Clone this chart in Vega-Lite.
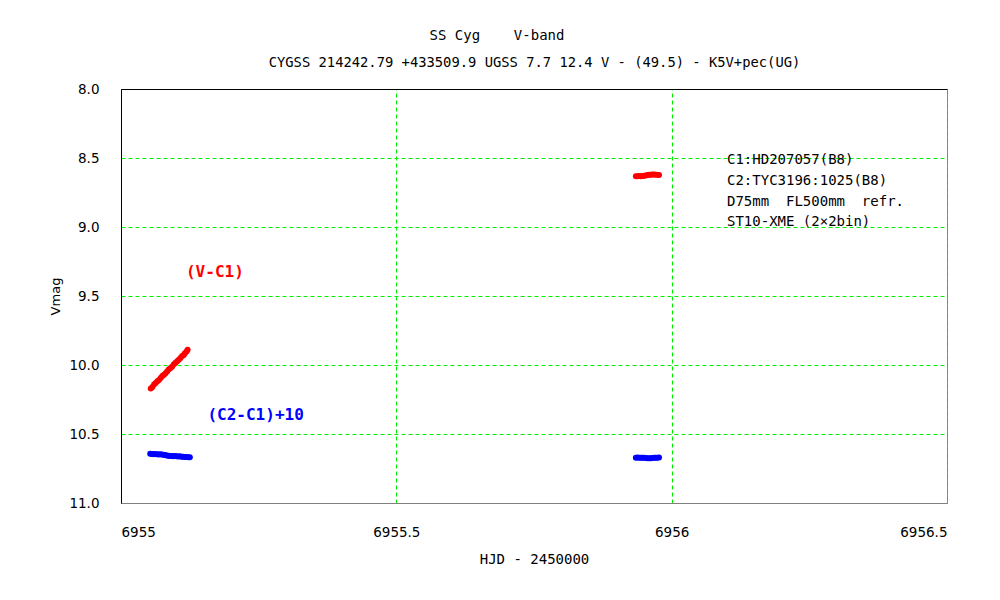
{
  "$schema": "https://vega.github.io/schema/vega-lite/v6.json",
  "width": 826,
  "height": 414,
  "autosize": {"type": "none"},
  "padding": {"left": 121, "top": 89, "right": 53, "bottom": 97},
  "background": "white",
  "title": {
    "text": "SS Cyg\u00a0\u00a0\u00a0\u00a0V-band",
    "font": "DejaVu Sans Mono",
    "fontSize": 14,
    "fontWeight": "normal",
    "color": "#000000",
    "anchor": "middle",
    "dx": -37,
    "offset": 12
  },
  "config": {
    "view": {"stroke": "#808080", "strokeWidth": 1},
    "font": "DejaVu Sans"
  },
  "layer": [
    {
      "data": {
        "values": [
          {"hjd": 6955.054, "mag": 10.170, "series": "V-C1"},
          {"hjd": 6955.057, "mag": 10.160, "series": "V-C1"},
          {"hjd": 6955.060, "mag": 10.142, "series": "V-C1"},
          {"hjd": 6955.063, "mag": 10.130, "series": "V-C1"},
          {"hjd": 6955.066, "mag": 10.118, "series": "V-C1"},
          {"hjd": 6955.069, "mag": 10.108, "series": "V-C1"},
          {"hjd": 6955.072, "mag": 10.095, "series": "V-C1"},
          {"hjd": 6955.075, "mag": 10.079, "series": "V-C1"},
          {"hjd": 6955.078, "mag": 10.070, "series": "V-C1"},
          {"hjd": 6955.081, "mag": 10.060, "series": "V-C1"},
          {"hjd": 6955.084, "mag": 10.046, "series": "V-C1"},
          {"hjd": 6955.087, "mag": 10.030, "series": "V-C1"},
          {"hjd": 6955.090, "mag": 10.021, "series": "V-C1"},
          {"hjd": 6955.093, "mag": 10.010, "series": "V-C1"},
          {"hjd": 6955.096, "mag": 9.994, "series": "V-C1"},
          {"hjd": 6955.099, "mag": 9.984, "series": "V-C1"},
          {"hjd": 6955.102, "mag": 9.972, "series": "V-C1"},
          {"hjd": 6955.105, "mag": 9.962, "series": "V-C1"},
          {"hjd": 6955.108, "mag": 9.949, "series": "V-C1"},
          {"hjd": 6955.111, "mag": 9.935, "series": "V-C1"},
          {"hjd": 6955.114, "mag": 9.928, "series": "V-C1"},
          {"hjd": 6955.116, "mag": 9.915, "series": "V-C1"},
          {"hjd": 6955.119, "mag": 9.903, "series": "V-C1"},
          {"hjd": 6955.121, "mag": 9.890, "series": "V-C1"},
          {"hjd": 6955.935, "mag": 8.633, "series": "V-C1"},
          {"hjd": 6955.938, "mag": 8.632, "series": "V-C1"},
          {"hjd": 6955.941, "mag": 8.631, "series": "V-C1"},
          {"hjd": 6955.944, "mag": 8.632, "series": "V-C1"},
          {"hjd": 6955.947, "mag": 8.630, "series": "V-C1"},
          {"hjd": 6955.950, "mag": 8.629, "series": "V-C1"},
          {"hjd": 6955.953, "mag": 8.627, "series": "V-C1"},
          {"hjd": 6955.956, "mag": 8.624, "series": "V-C1"},
          {"hjd": 6955.959, "mag": 8.622, "series": "V-C1"},
          {"hjd": 6955.962, "mag": 8.621, "series": "V-C1"},
          {"hjd": 6955.965, "mag": 8.619, "series": "V-C1"},
          {"hjd": 6955.968, "mag": 8.620, "series": "V-C1"},
          {"hjd": 6955.971, "mag": 8.621, "series": "V-C1"},
          {"hjd": 6955.974, "mag": 8.622, "series": "V-C1"},
          {"hjd": 6955.977, "mag": 8.624, "series": "V-C1"},
          {"hjd": 6955.053, "mag": 10.644, "series": "C2-C1+10"},
          {"hjd": 6955.056, "mag": 10.645, "series": "C2-C1+10"},
          {"hjd": 6955.059, "mag": 10.646, "series": "C2-C1+10"},
          {"hjd": 6955.062, "mag": 10.645, "series": "C2-C1+10"},
          {"hjd": 6955.065, "mag": 10.647, "series": "C2-C1+10"},
          {"hjd": 6955.068, "mag": 10.648, "series": "C2-C1+10"},
          {"hjd": 6955.071, "mag": 10.647, "series": "C2-C1+10"},
          {"hjd": 6955.074, "mag": 10.649, "series": "C2-C1+10"},
          {"hjd": 6955.077, "mag": 10.650, "series": "C2-C1+10"},
          {"hjd": 6955.080, "mag": 10.652, "series": "C2-C1+10"},
          {"hjd": 6955.083, "mag": 10.655, "series": "C2-C1+10"},
          {"hjd": 6955.086, "mag": 10.657, "series": "C2-C1+10"},
          {"hjd": 6955.089, "mag": 10.659, "series": "C2-C1+10"},
          {"hjd": 6955.092, "mag": 10.660, "series": "C2-C1+10"},
          {"hjd": 6955.095, "mag": 10.661, "series": "C2-C1+10"},
          {"hjd": 6955.098, "mag": 10.660, "series": "C2-C1+10"},
          {"hjd": 6955.101, "mag": 10.662, "series": "C2-C1+10"},
          {"hjd": 6955.104, "mag": 10.663, "series": "C2-C1+10"},
          {"hjd": 6955.107, "mag": 10.662, "series": "C2-C1+10"},
          {"hjd": 6955.110, "mag": 10.664, "series": "C2-C1+10"},
          {"hjd": 6955.113, "mag": 10.665, "series": "C2-C1+10"},
          {"hjd": 6955.116, "mag": 10.667, "series": "C2-C1+10"},
          {"hjd": 6955.119, "mag": 10.666, "series": "C2-C1+10"},
          {"hjd": 6955.122, "mag": 10.668, "series": "C2-C1+10"},
          {"hjd": 6955.125, "mag": 10.669, "series": "C2-C1+10"},
          {"hjd": 6955.935, "mag": 10.672, "series": "C2-C1+10"},
          {"hjd": 6955.938, "mag": 10.671, "series": "C2-C1+10"},
          {"hjd": 6955.941, "mag": 10.672, "series": "C2-C1+10"},
          {"hjd": 6955.944, "mag": 10.673, "series": "C2-C1+10"},
          {"hjd": 6955.947, "mag": 10.672, "series": "C2-C1+10"},
          {"hjd": 6955.950, "mag": 10.673, "series": "C2-C1+10"},
          {"hjd": 6955.953, "mag": 10.674, "series": "C2-C1+10"},
          {"hjd": 6955.956, "mag": 10.675, "series": "C2-C1+10"},
          {"hjd": 6955.959, "mag": 10.676, "series": "C2-C1+10"},
          {"hjd": 6955.962, "mag": 10.675, "series": "C2-C1+10"},
          {"hjd": 6955.965, "mag": 10.674, "series": "C2-C1+10"},
          {"hjd": 6955.968, "mag": 10.673, "series": "C2-C1+10"},
          {"hjd": 6955.971, "mag": 10.672, "series": "C2-C1+10"},
          {"hjd": 6955.974, "mag": 10.672, "series": "C2-C1+10"},
          {"hjd": 6955.977, "mag": 10.671, "series": "C2-C1+10"}
        ]
      },
      "mark": {"type": "circle", "size": 36, "opacity": 1},
      "encoding": {
        "x": {
          "field": "hjd",
          "type": "quantitative",
          "scale": {"domain": [6955, 6956.5], "nice": false, "zero": false},
          "axis": {
            "orient": "bottom",
            "title": "HJD - 2450000",
            "values": [6955, 6955.5, 6956, 6956.5],
            "format": ".1~f",
            "ticks": false,
            "labelPadding": 22,
            "labelFontSize": 13.5,
            "labelColor": "#000000",
            "labelFont": "DejaVu Sans",
            "titleFont": "DejaVu Sans Mono",
            "titleFontSize": 14,
            "titleFontWeight": "normal",
            "titleColor": "#000000",
            "titlePadding": 14,
            "domainColor": "#808080",
            "grid": true,
            "gridColor": "#00ee00",
            "gridDash": [4, 3],
            "gridWidth": 1,
            "gridOpacity": 1
          }
        },
        "y": {
          "field": "mag",
          "type": "quantitative",
          "scale": {"domain": [8, 11], "reverse": true, "nice": false, "zero": false},
          "axis": {
            "title": "Vmag",
            "values": [8, 8.5, 9, 9.5, 10, 10.5, 11],
            "format": ".1f",
            "ticks": false,
            "labelPadding": 22,
            "labelFontSize": 13.5,
            "labelColor": "#000000",
            "labelFont": "DejaVu Sans",
            "titleFont": "DejaVu Sans",
            "titleFontSize": 13,
            "titleFontWeight": "normal",
            "titleColor": "#000000",
            "titlePadding": 6,
            "domainColor": "#000000",
            "grid": true,
            "gridColor": "#00ee00",
            "gridDash": [4, 3],
            "gridWidth": 1,
            "gridOpacity": 1
          }
        },
        "color": {
          "field": "series",
          "type": "nominal",
          "scale": {"domain": ["V-C1", "C2-C1+10"], "range": ["#ff0000", "#0000ff"]},
          "legend": null
        }
      }
    },
    {
      "data": {"values": [{"hjd": 6955.118, "mag": 9.326, "label": "(V-C1)"}]},
      "mark": {"type": "text", "align": "left", "baseline": "middle", "font": "DejaVu Sans Mono", "fontSize": 16, "fontWeight": "bold", "color": "#ff0000"},
      "encoding": {
        "x": {"field": "hjd", "type": "quantitative", "axis": null},
        "y": {"field": "mag", "type": "quantitative"},
        "text": {"field": "label"}
      }
    },
    {
      "data": {"values": [{"hjd": 6955.157, "mag": 10.362, "label": "(C2-C1)+10"}]},
      "mark": {"type": "text", "align": "left", "baseline": "middle", "font": "DejaVu Sans Mono", "fontSize": 16, "fontWeight": "bold", "color": "#0000ff"},
      "encoding": {
        "x": {"field": "hjd", "type": "quantitative", "axis": null},
        "y": {"field": "mag", "type": "quantitative"},
        "text": {"field": "label"}
      }
    },
    {
      "data": {
        "values": [
          {"hjd": 6956.1005, "mag": 8.514, "label": "C1:HD207057(B8)"},
          {"hjd": 6956.1005, "mag": 8.667, "label": "C2:TYC3196:1025(B8)"},
          {"hjd": 6956.1005, "mag": 8.819, "label": "D75mm\u00a0\u00a0FL500mm\u00a0\u00a0refr."},
          {"hjd": 6956.1005, "mag": 8.964, "label": "ST10-XME\u00a0(2×2bin)"}
        ]
      },
      "mark": {"type": "text", "align": "left", "baseline": "middle", "font": "DejaVu Sans Mono", "fontSize": 14, "color": "#000000"},
      "encoding": {
        "x": {
          "field": "hjd",
          "type": "quantitative",
          "axis": {
            "orient": "top",
            "title": "CYGSS 214242.79 +433509.9 UGSS 7.7 12.4 V - (49.5) - K5V+pec(UG)",
            "labels": false,
            "ticks": false,
            "grid": false,
            "domain": true,
            "domainColor": "#000000",
            "titleFont": "DejaVu Sans Mono",
            "titleFontSize": 13.8,
            "titleFontWeight": "normal",
            "titleColor": "#000000",
            "titlePadding": 20
          }
        },
        "y": {"field": "mag", "type": "quantitative"},
        "text": {"field": "label"}
      }
    }
  ]
}
